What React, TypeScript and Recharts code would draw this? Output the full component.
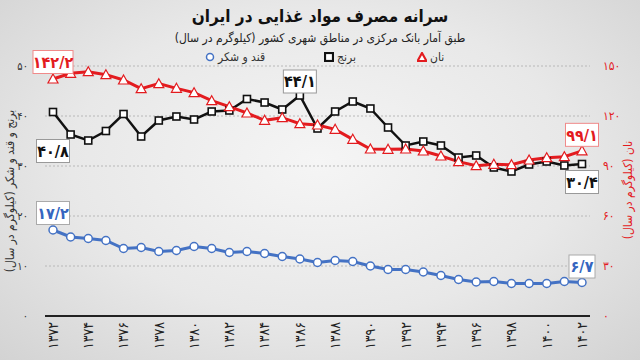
import { LineChart, Line, XAxis, YAxis, CartesianGrid, LabelList } from "recharts";

const years = [
  1372, 1373, 1374, 1375, 1376, 1377, 1378, 1379, 1380, 1381, 1382, 1383, 1384, 1385, 1386, 1387,
  1388, 1389, 1390, 1391, 1392, 1393, 1394, 1395, 1396, 1397, 1398, 1399, 1400, 1401, 1402,
];
const bread = [
  142.2, 145.6, 146.6, 144.8, 141.6, 136.4, 139.4, 136.6, 134.0, 129.2, 125.6, 121.8, 117.4, 119.0,
  115.4, 114.6, 112.0, 106.0, 100.2, 100.0, 100.2, 99.0, 96.0, 92.6, 90.2, 91.0, 90.8, 93.6, 95.0,
  95.6, 99.1,
];
const rice = [
  40.8, 36.3, 35.1, 37.0, 40.4, 35.9, 39.1, 39.9, 39.3, 40.9, 41.1, 43.4, 42.7, 41.3, 44.1, 37.5,
  40.9, 42.9, 41.5, 37.7, 34.1, 34.9, 34.1, 31.7, 32.1, 29.7, 28.9, 30.3, 30.9, 30.1, 30.4,
];
const sugar = [
  17.2, 15.8, 15.5, 15.1, 13.5, 13.7, 12.9, 13.1, 13.9, 13.5, 12.7, 12.9, 12.5, 11.9, 11.4, 10.7,
  11.1, 10.9, 10.0, 9.3, 9.3, 8.8, 8.1, 7.3, 6.8, 6.9, 6.5, 6.5, 6.5, 6.9, 6.7,
];
const leftTicks = [0, 10, 20, 30, 40, 50];
const rightTicks = [0, 30, 60, 90, 120, 150];

const data = years.map((year, i) => ({
  year,
  bread: bread[i],
  rice: rice[i],
  sugar: sugar[i],
}));

const RED = "#e31b1f";
const BLACK = "#111111";
const BLUE = "#4472c4";
const FONT = "'DejaVu Sans Condensed', 'DejaVu Sans', sans-serif";

const fa = (v: number | string) =>
  String(v)
    .replace(/[0-9]/g, (d) => "۰۱۲۳۴۵۶۷۸۹"[Number(d)])
    .replace(".", "/");

const XTick = ({ x, y, payload }: any) => (
  <text
    x={x}
    y={y - 2}
    transform={`rotate(-90, ${x}, ${y - 2})`}
    textAnchor="end"
    dy="0.35em"
    fontSize={14}
    fontFamily={FONT}
    fill="#222"
  >
    {fa(payload.value)}
  </text>
);

const LeftTick = ({ y, payload }: any) => (
  <text x={28} y={y} dy="0.35em" textAnchor="end" fontSize={11} fontFamily={FONT} fill="#333">
    {fa(payload.value)}
  </text>
);

const RightTick = ({ y, payload }: any) => (
  <text x={603} y={y} dy="0.35em" textAnchor="start" fontSize={12} fontFamily={FONT} fill={RED}>
    {fa(payload.value)}
  </text>
);

const TriangleDot = ({ cx, cy }: any) => (
  <polygon
    points={`${cx},${cy - 5} ${cx + 5},${cy + 4} ${cx - 5},${cy + 4}`}
    fill="#fff"
    stroke={RED}
    strokeWidth={1.2}
  />
);

const SquareDot = ({ cx, cy }: any) => (
  <rect x={cx - 3.5} y={cy - 3.5} width={7} height={7} fill="#fff" stroke={BLACK} strokeWidth={1.6} />
);

const CircleDot = ({ cx, cy }: any) => (
  <circle cx={cx} cy={cy} r={4} fill="#fff" stroke={BLUE} strokeWidth={1.5} />
);

// callouts: index -> vertical offset of box centre from the point
const callout =
  (color: string, border: string, offsets: Record<number, number>) => (props: any) => {
    const { x, y, value, index } = props;
    if (!(index in offsets)) return null;
    const text = fa(value);
    const w = text.length * 7 + 5;
    const h = 23;
    const cy = y + offsets[index];
    return (
      <g>
        <rect x={x - w / 2} y={cy - h / 2} width={w} height={h} fill="#fff" stroke={border} strokeWidth={1} />
        <text
          x={x}
          y={cy}
          dy="0.36em"
          textAnchor="middle"
          fontSize={16}
          fontWeight="bold"
          fontFamily={FONT}
          fill={color}
        >
          {text}
        </text>
      </g>
    );
  };

const legendItems = [
  { label: "قند و شکر", x: 205, icon: "circle" },
  { label: "برنج", x: 324, icon: "square" },
  { label: "نان", x: 417, icon: "triangle" },
];

const LegendIcon = ({ kind }: { kind: string }) => (
  <svg width={10} height={10} style={{ marginRight: 3 }}>
    {kind === "circle" && <circle cx={5} cy={5} r={3.5} fill="#fff" stroke={BLUE} strokeWidth={1.5} />}
    {kind === "square" && <rect x={1} y={1} width={8} height={8} fill="#fff" stroke={BLACK} strokeWidth={2.2} />}
    {kind === "triangle" && (
      <polygon points="5,1 9.5,9 0.5,9" fill="#fff" stroke={RED} strokeWidth={2.2} />
    )}
  </svg>
);

export default function App() {
  return (
    <div
      style={{
        position: "absolute",
        left: 0,
        top: 0,
        width: 640,
        height: 360,
        overflow: "hidden",
        fontFamily: FONT,
        background: "radial-gradient(ellipse at 50% 45%, #f5f5f5 0%, #e8e8e8 55%, #d3d3d3 100%)",
      }}
    >
      <div
        style={{
          position: "absolute",
          top: 6,
          width: 640,
          textAlign: "center",
          fontSize: 17,
          fontWeight: "bold",
          color: "#111",
          direction: "rtl",
        }}
      >
        سرانه مصرف مواد غذایی در ایران
      </div>
      <div
        style={{
          position: "absolute",
          top: 31,
          width: 640,
          textAlign: "center",
          fontSize: 12,
          color: "#222",
          direction: "rtl",
        }}
      >
        طبق آمار بانک مرکزی در مناطق شهری کشور (کیلوگرم در سال)
      </div>
      {legendItems.map((it) => (
        <div
          key={it.label}
          style={{
            position: "absolute",
            left: it.x,
            top: 50,
            display: "flex",
            alignItems: "center",
            fontSize: 12,
            color: "#333",
            whiteSpace: "nowrap",
          }}
        >
          <LegendIcon kind={it.icon} />
          <span style={{ direction: "rtl" }}>{it.label}</span>
        </div>
      ))}
      <div
        style={{
          position: "absolute",
          left: 10,
          top: 191,
          transform: "translate(-50%, -50%) rotate(-90deg)",
          whiteSpace: "nowrap",
          fontSize: 12,
          color: "#333",
          direction: "rtl",
        }}
      >
        برنج و قند و شکر (کیلوگرم در سال)
      </div>
      <div
        style={{
          position: "absolute",
          left: 628,
          top: 190,
          transform: "translate(-50%, -50%) rotate(-90deg)",
          whiteSpace: "nowrap",
          fontSize: 12,
          color: RED,
          direction: "rtl",
        }}
      >
        نان (کیلوگرم در سال)
      </div>
      <LineChart
        width={640}
        height={360}
        data={data}
        margin={{ top: 66, right: 0, bottom: 0, left: 0 }}
        style={{ position: "absolute", left: 0, top: 0 }}
      >
        <CartesianGrid yAxisId="left" vertical={false} stroke="#b8b8b8" strokeDasharray="2 2" />
        <XAxis
          dataKey="year"
          height={44}
          interval={1}
          tick={<XTick />}
          tickLine={false}
          axisLine={{ stroke: "#222", strokeWidth: 2 }}
          padding={{ left: 8, right: 8 }}
        />
        <YAxis
          yAxisId="left"
          width={45}
          domain={[0, 50]}
          ticks={leftTicks}
          interval={0}
          tick={<LeftTick />}
          axisLine={false}
          tickLine={false}
        />
        <YAxis
          yAxisId="right"
          orientation="right"
          width={50}
          domain={[0, 150]}
          ticks={rightTicks}
          interval={0}
          tick={<RightTick />}
          axisLine={false}
          tickLine={false}
        />
        <Line
          yAxisId="left"
          dataKey="rice"
          stroke={BLACK}
          strokeWidth={2.5}
          dot={<SquareDot />}
          isAnimationActive={false}
        >
          <LabelList dataKey="rice" content={callout(BLACK, "#999", { 0: 39, 14: -14, 30: 18 })} />
        </Line>
        <Line
          yAxisId="right"
          dataKey="bread"
          stroke={RED}
          strokeWidth={3}
          dot={<TriangleDot />}
          isAnimationActive={false}
        >
          <LabelList dataKey="bread" content={callout(RED, "#f08a8a", { 0: -17, 30: -16 })} />
        </Line>
        <Line
          yAxisId="left"
          dataKey="sugar"
          stroke={BLUE}
          strokeWidth={3}
          dot={<CircleDot />}
          isAnimationActive={false}
        >
          <LabelList dataKey="sugar" content={callout("#3566c0", "#aaa", { 0: -17, 30: -16 })} />
        </Line>
      </LineChart>
    </div>
  );
}
